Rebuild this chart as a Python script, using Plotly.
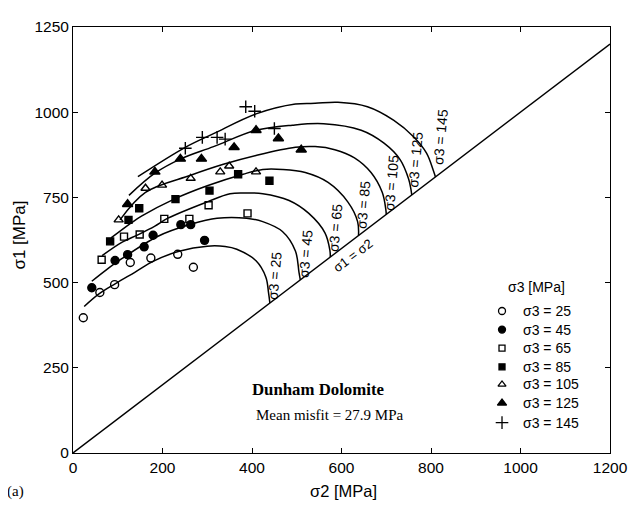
import plotly.graph_objects as go

# ---------------- data (MPa) ----------------
sigma3_levels = [25, 45, 65, 85, 105, 125, 145]

# measured points (sigma2, sigma1)
pts25_s2 = [23, 60, 93, 128, 174, 234, 269]
pts25_s1 = [397, 471, 494, 559, 572, 583, 545]
pts45_s2 = [42, 94, 122, 159, 179, 241, 263, 294]
pts45_s1 = [485, 565, 582, 605, 639, 670, 670, 624]
pts65_s2 = [64, 114, 149, 204, 260, 303, 390]
pts65_s1 = [567, 635, 641, 687, 687, 727, 703]
pts85_s2 = [83, 124, 148, 229, 305, 369, 439]
pts85_s1 = [621, 684, 718, 745, 770, 818, 799]
pts105_s2 = [102, 162, 199, 263, 329, 349, 409]
pts105_s1 = [684, 777, 786, 806, 825, 842, 825]
pts125_s2 = [122, 183, 240, 287, 360, 409, 459, 510]
pts125_s1 = [730, 825, 863, 863, 897, 947, 923, 890]
pts145_s2 = [251, 289, 322, 340, 386, 406, 450]
pts145_s1 = [894, 926, 926, 921, 1016, 1003, 952]

# fitted envelopes (sigma2, sigma1)
fit25_s2 = [25, 58, 95, 139, 180, 237, 300, 340, 366, 409, 431, 437, 440]
fit25_s1 = [430, 467, 497, 531, 563, 592, 607, 606, 598, 564, 516, 470, 440]
fit45_s2 = [42, 73, 109, 190, 263, 322, 388, 424, 468, 497, 505, 508]
fit45_s1 = [504, 536, 570, 636, 671, 689, 689, 679, 650, 593, 530, 508]
fit65_s2 = [65, 109, 146, 183, 212, 300, 351, 388, 424, 483, 527, 563, 574, 575]
fit65_s1 = [579, 618, 641, 666, 689, 737, 761, 763, 761, 741, 703, 646, 595, 575]
fit85_s2 = [85, 131, 153, 226, 300, 380, 424, 468, 519, 570, 614, 636, 638]
fit85_s1 = [631, 676, 695, 745, 784, 818, 832, 832, 823, 794, 737, 679, 638]
fit105_s2 = [105, 162, 263, 336, 409, 497, 541, 585, 629, 666, 691, 699, 700]
fit105_s1 = [684, 765, 815, 847, 873, 897, 899, 890, 866, 823, 765, 715, 700]
fit125_s2 = [125, 183, 241, 314, 409, 490, 560, 644, 695, 731, 750, 755, 757]
fit125_s1 = [756, 821, 863, 899, 947, 962, 966, 947, 909, 861, 804, 775, 757]
fit145_s2 = [145, 251, 314, 409, 497, 541, 592, 658, 717, 761, 790, 805, 810]
fit145_s1 = [811, 897, 937, 995, 1024, 1026, 1029, 1016, 976, 928, 880, 830, 810]

diag = [0, 1200]

x_ticks = [0, 200, 400, 600, 800, 1000, 1200]
y_ticks = [0, 250, 500, 750, 1000, 1250]

# ---------------- layout helpers (positions, not data) ----------------
SANS = "Liberation Sans, Arial, Helvetica, sans-serif"
SERIF = "Liberation Serif, Times New Roman, serif"

# plot area in screen pixels (page body adds an 8px offset, compensated below)
X0, X1, Y0, Y1 = 73.0, 620.0, 453.0, 18.0
def dx(px):  # screen px -> sigma2
    return (px - X0) / (X1 - X0) * 1200
def dy(py):  # screen py -> sigma1
    return (Y0 - py) / (Y0 - Y1) * 1250
def pxp(px):
    return (px - X0) / (X1 - X0)
def pyp(py):
    return (Y0 - py) / (Y0 - Y1)

# curve label centres (screen px)
lab_px = [(278, 272), (310, 250), (340, 223), (369, 200), (397, 177), (422, 154), (447, 130)]

# legend rows (screen px)
leg_marker_x, leg_text_x = 510, 529
leg_rows_y = [308, 327, 346, 365, 383, 402, 422]

fig = go.Figure()

fig.add_trace(go.Scatter(x=diag, y=diag, mode="lines",
                         line=dict(color="black", width=1.4),
                         showlegend=False, hoverinfo="skip"))

fits = [(fit25_s2, fit25_s1), (fit45_s2, fit45_s1), (fit65_s2, fit65_s1),
        (fit85_s2, fit85_s1), (fit105_s2, fit105_s1), (fit125_s2, fit125_s1),
        (fit145_s2, fit145_s1)]
for fx, fy in fits:
    fig.add_trace(go.Scatter(x=fx, y=fy, mode="lines",
                             line=dict(color="black", width=1.5, shape="spline", smoothing=1.0),
                             showlegend=False, hoverinfo="skip"))

pts = [(pts25_s2, pts25_s1), (pts45_s2, pts45_s1), (pts65_s2, pts65_s1),
       (pts85_s2, pts85_s1), (pts105_s2, pts105_s1), (pts125_s2, pts125_s1),
       (pts145_s2, pts145_s1)]
symbols = ["circle-open", "circle", "square-open", "square",
           "triangle-up-open", "triangle-up", "cross-thin-open"]
sizes = [8, 8, 7, 7, 8, 9, 9]
leg_sizes = [7, 7, 6, 6, 7, 8, 9]

for (px, py), lev, sym, sz, lsz, ry in zip(pts, sigma3_levels, symbols, sizes, leg_sizes, leg_rows_y):
    fig.add_trace(go.Scatter(
        x=px, y=py, mode="markers", name=f"σ3 = {lev}", showlegend=False,
        marker=dict(symbol=sym, size=sz, color="black",
                    line=dict(color="black", width=1.4)),
    ))
    # legend key
    fig.add_trace(go.Scatter(
        x=[dx(leg_marker_x)], y=[dy(ry)], mode="markers", showlegend=False,
        hoverinfo="skip",
        marker=dict(symbol=sym, size=lsz, color="black",
                    line=dict(color="black", width=1.3)),
    ))
    fig.add_annotation(x=dx(leg_text_x), y=dy(ry), xref="x", yref="y",
                       text=f"σ3 = {lev}", showarrow=False,
                       xanchor="left", yanchor="middle",
                       font=dict(family=SANS, size=14, color="black"))

fig.add_annotation(x=dx(545), y=dy(283), xref="x", yref="y", text="σ3 [MPa]",
                   showarrow=False, xanchor="center", yanchor="middle",
                   font=dict(family=SANS, size=14, color="black"))

# curve labels
for lev, (lx, ly) in zip(sigma3_levels, lab_px):
    fig.add_annotation(x=dx(lx), y=dy(ly), xref="x", yref="y", text=f"σ3 = {lev}",
                       textangle=-85, showarrow=False,
                       xanchor="center", yanchor="middle",
                       font=dict(family=SANS, size=14, color="black"))

fig.add_annotation(x=dx(358), y=dy(251), xref="x", yref="y", text="σ1 = σ2",
                   textangle=-37, showarrow=False,
                   xanchor="center", yanchor="middle",
                   font=dict(family=SANS, size=13, color="black"))

fig.add_annotation(x=dx(323), y=dy(388), xref="x", yref="y",
                   text="<b>Dunham Dolomite</b>", showarrow=False,
                   xanchor="center", yanchor="middle",
                   font=dict(family=SERIF, size=16.8, color="black"))
fig.add_annotation(x=dx(257), y=dy(414), xref="x", yref="y",
                   text="Mean misfit = 27.9 MPa", showarrow=False,
                   xanchor="left", yanchor="middle",
                   font=dict(family=SERIF, size=15, color="black"))

# axis titles and panel tag
fig.add_annotation(x=pxp(349), y=pyp(492), xref="paper", yref="paper", text="σ2 [MPa]",
                   showarrow=False, xanchor="center", yanchor="middle",
                   font=dict(family=SANS, size=16.5, color="black"))
fig.add_annotation(x=pxp(19), y=pyp(230), xref="paper", yref="paper", text="σ1 [MPa]",
                   textangle=-90, showarrow=False, xanchor="center", yanchor="middle",
                   font=dict(family=SANS, size=17, color="black"))
fig.add_annotation(x=pxp(14), y=pyp(492), xref="paper", yref="paper", text="(a)",
                   showarrow=False, xanchor="center", yanchor="middle",
                   font=dict(family=SERIF, size=15, color="black"))

axis_common = dict(showgrid=False, zeroline=False, showline=True, linecolor="black",
                   linewidth=1, ticks="inside", ticklen=5, tickcolor="black",
                   mirror="ticks", tickfont=dict(family=SANS, size=15.5, color="black"))

fig.update_xaxes(range=[0, 1200], tickvals=x_ticks, ticktext=[str(v) for v in x_ticks],
                 **axis_common)
fig.update_yaxes(range=[0, 1250], tickvals=y_ticks, ticktext=[str(v) for v in y_ticks],
                 **axis_common)

fig.update_layout(
    width=630, height=500,
    margin=dict(l=X0 - 8, r=638 - X1, t=Y1 - 8, b=508 - Y0),
    paper_bgcolor="white", plot_bgcolor="white",
    showlegend=False,
)

fig.write_html("out.html")
